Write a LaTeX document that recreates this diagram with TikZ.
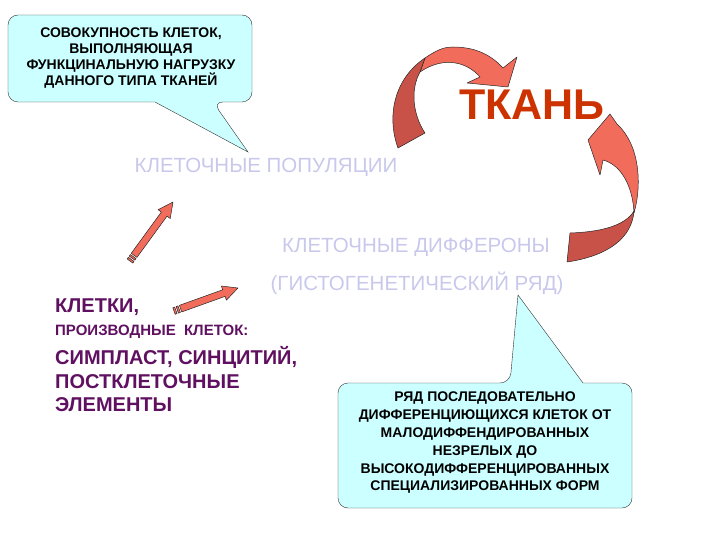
\documentclass[tikz,border=0pt]{standalone}
\usepackage{fontspec}
\setmainfont{Liberation Sans}
\usetikzlibrary{calc}
\definecolor{tissue}{RGB}{204,51,0}
\definecolor{lavender}{RGB}{200,200,236}
\definecolor{plum}{RGB}{96,16,96}
\definecolor{bubble}{RGB}{204,255,255}
\definecolor{salmon}{RGB}{242,108,92}
\definecolor{brick}{RGB}{200,82,72}
\tikzset{
    bubbleline/.style={draw=black!80,fill=bubble,thin},
    bubbletext/.style={font=\bfseries\fontsize{14}{16.3}\selectfont,align=center,inner sep=0pt},
    palelabel/.style={text=lavender,font=\fontsize{20.5}{22}\selectfont,inner sep=0pt},
    cellbig/.style={text=plum,font=\bfseries\fontsize{20}{22}\selectfont,anchor=west,inner sep=0pt},
    cellsmall/.style={text=plum,font=\bfseries\fontsize{15}{17}\selectfont,anchor=west,inner sep=0pt},
    arrowfill/.style={draw=black!85,fill=salmon,line width=0.5pt,line join=round},
}
% block arrow with two stripes at the tail, from #1 to #2
\newcommand\stripedarrow[2]{%
    \draw[arrowfill] ($(#1)!0pt!(#2)!3.5pt!90:(#2)$) -- ($(#1)!2pt!(#2)!3.5pt!90:(#2)$)
        -- ($(#1)!2pt!(#2)!3.5pt!-90:(#2)$) -- ($(#1)!0pt!(#2)!3.5pt!-90:(#2)$) -- cycle;
    \draw[arrowfill] ($(#1)!3.5pt!(#2)!3.5pt!90:(#2)$) -- ($(#1)!5.5pt!(#2)!3.5pt!90:(#2)$)
        -- ($(#1)!5.5pt!(#2)!3.5pt!-90:(#2)$) -- ($(#1)!3.5pt!(#2)!3.5pt!-90:(#2)$) -- cycle;
    \draw[arrowfill] ($(#1)!7pt!(#2)!3.5pt!90:(#2)$) -- ($(#2)!15pt!(#1)!3.5pt!-90:(#1)$)
        -- ($(#2)!15pt!(#1)!7.5pt!-90:(#1)$) -- (#2) -- ($(#2)!15pt!(#1)!7.5pt!90:(#1)$)
        -- ($(#2)!15pt!(#1)!3.5pt!90:(#1)$) -- ($(#1)!7pt!(#2)!3.5pt!-90:(#2)$) -- cycle;
}

\begin{document}
\begin{tikzpicture}[x=1pt,y=-1pt]
    \useasboundingbox (0,0) rectangle (720,540);

    % callouts
    \draw[bubbleline] (8,58) [rounded corners=10pt] -- (8,15) -- (252,15) -- (252,102)
        -- (213,102) [sharp corners] -- (248,152) -- (155,102) [rounded corners=10pt] -- (8,102) -- cycle;
    \node[bubbletext] (whole) at (131,58) {СОВОКУПНОСТЬ КЛЕТОК,\\ВЫПОЛНЯЮЩАЯ\\ФУНКЦИНАЛЬНУЮ НАГРУЗКУ\\ДАННОГО ТИПА ТКАНЕЙ};

    \draw[bubbleline] (338,445) [rounded corners=10pt] -- (338,383) -- (510,383) [sharp corners]
        -- (518,295) -- (583,383) [rounded corners=10pt] -- (632,383) -- (632,508) -- (338,508) -- cycle;
    \node[bubbletext,font=\bfseries\fontsize{14}{17.8}\selectfont] (series) at (485,443)
        {РЯД ПОСЛЕДОВАТЕЛЬНО\\ДИФФЕРЕНЦИЮЩИХСЯ КЛЕТОК ОТ\\МАЛОДИФФЕНДИРОВАННЫХ\\НЕЗРЕЛЫХ ДО\\ВЫСОКОДИФФЕРЕНЦИРОВАННЫХ\\СПЕЦИАЛИЗИРОВАННЫХ ФОРМ};

    % main labels
    \node[text=tissue,font=\bfseries\fontsize{43}{45}\selectfont,inner sep=0pt] (tissue) at (532,105) {ТКАНЬ};
    \node[palelabel] (pop) at (266,167) {КЛЕТОЧНЫЕ ПОПУЛЯЦИИ};
    \node[palelabel] (dif) at (416,247) {КЛЕТОЧНЫЕ ДИФФЕРОНЫ};
    \node[palelabel] (row) at (417,283) {(ГИСТОГЕНЕТИЧЕСКИЙ РЯД)};

    \node[cellbig] (cells) at (55,307) {КЛЕТКИ,};
    \node[cellsmall] (deriv) at (55,332) {ПРОИЗВОДНЫЕ\ \ КЛЕТОК:};
    \node[cellbig] (symp) at (55,357) {СИМПЛАСТ, СИНЦИТИЙ,};
    \node[cellbig] (post) at (55,382) {ПОСТКЛЕТОЧНЫЕ};
    \node[cellbig] (elem) at (55,405) {ЭЛЕМЕНТЫ};

    % curved arrows
    \draw[arrowfill] (425,58) .. controls (438,49) and (445,47) .. (453,47)
        .. controls (478,47) and (493,57) .. (503,68) -- (517,57) -- (508,87) -- (467,83) -- (480,77)
        .. controls (468,63) and (445,55) .. (420,72) -- cycle;
    \draw[arrowfill,fill=brick] (398,148) .. controls (386,115) and (395,78) .. (425,58)
        -- (420,72) .. controls (410,90) and (413,115) .. (425,133) -- cycle;

    \draw[arrowfill] (610,114) -- (588,140) -- (600,175) -- (603,160)
        .. controls (622,165) and (633,188) .. (634,213)
        .. controls (642,185) and (640,145) .. (617,124) -- cycle;
    \draw[arrowfill,fill=brick] (570,233) .. controls (600,232) and (625,226) .. (634,211)
        .. controls (632,238) and (608,256) .. (567,262) -- cycle;

    % straight arrows
    \coordinate (t1) at (130,261);
    \coordinate (h1) at (173,202);
    \coordinate (t2) at (174,311);
    \coordinate (h2) at (238,288);
    \stripedarrow{t1}{h1}
    \stripedarrow{t2}{h2}
\end{tikzpicture}
\end{document}
